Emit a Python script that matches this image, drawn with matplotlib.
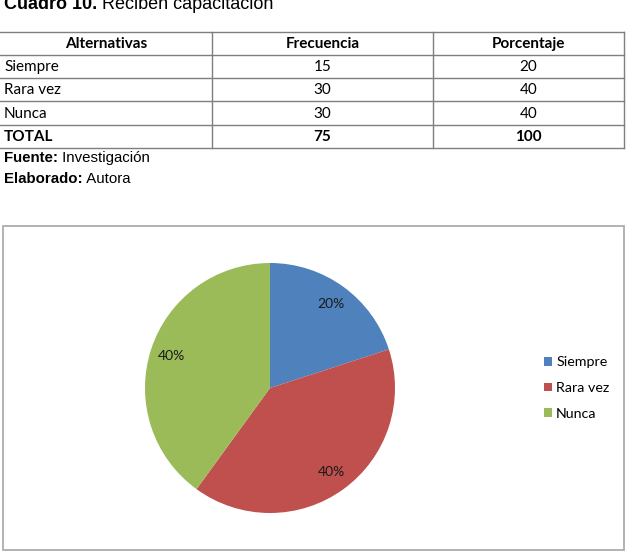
import matplotlib
matplotlib.use("Agg")
import matplotlib.pyplot as plt
from matplotlib.patches import Rectangle

# Data
alternativas = ["Siempre", "Rara vez", "Nunca"]
frecuencia = [15, 30, 30]
porcentaje = [20, 40, 40]
total_label = "TOTAL"
headers = ["Alternativas", "Frecuencia", "Porcentaje"]
colores = ["#4F81BD", "#C0504D", "#9BBB59"]

W, H = 633, 552
fig = plt.figure(figsize=(W / 100, H / 100), dpi=100)
fig.patch.set_facecolor("white")

# Page layer in pixel coordinates (y down)
page = fig.add_axes([0, 0, 1, 1])
page.set_xlim(0, W)
page.set_ylim(H, 0)
page.axis("off")

arial = "Liberation Sans"
calibri = "Lato"

# Title (cropped at the top like the source scan)
t = page.text(4, 9, "Cuadro 10.", fontsize=13, fontweight="bold", family=arial, va="baseline")
page.annotate(" Reciben capacitación", xycoords=t, xy=(1, 0), va="bottom",
              fontsize=13, family=arial)

# Table
col_x = [0, 212, 433, 624]
row_y = [32, 55, 78, 101, 125, 148]
line_c = "#7F7F7F"
for y in row_y:
    page.plot([col_x[0], col_x[-1]], [y, y], color=line_c, lw=1.0)
for x in col_x[1:]:
    page.plot([x, x], [row_y[0], row_y[-1]], color=line_c, lw=1.0)

rows = [headers]
for a, f, p in zip(alternativas, frecuencia, porcentaje):
    rows.append([a, str(f), str(p)])
rows.append([total_label, str(sum(frecuencia)), str(sum(porcentaje))])

for i, r in enumerate(rows):
    yc = (row_y[i] + row_y[i + 1]) / 2
    bold = i == 0 or i == len(rows) - 1
    for j, txt in enumerate(r):
        if j == 0 and i > 0:
            x, ha = 4, "left"
        else:
            x, ha = (col_x[j] + col_x[j + 1]) / 2, "center"
        page.text(x, yc + 0.5, txt, ha=ha, va="center", fontsize=11,
                  family=calibri, fontweight="bold" if bold else "normal")

# Source lines
f1 = page.text(4, 162, "Fuente:", fontsize=10.8, fontweight="bold", family=arial, va="baseline")
page.annotate(" Investigación", xycoords=f1, xy=(1, 0), va="bottom", fontsize=10.8, family=arial)
f2 = page.text(4, 183, "Elaborado:", fontsize=10.8, fontweight="bold", family=arial, va="baseline")
page.annotate(" Autora", xycoords=f2, xy=(1, 0), va="bottom", fontsize=10.8, family=arial)

# Chart frame
page.add_patch(Rectangle((3, 226), 621, 324, fill=False, edgecolor="#A6A6A6", lw=1.2))

# Pie
cx, cy, r = 270, 388, 125
ax = fig.add_axes([(cx - r) / W, (H - cy - r) / H, 2 * r / W, 2 * r / H])
wedges, texts, autotexts = ax.pie(
    porcentaje, colors=colores, startangle=90, counterclock=False,
    autopct="%1.0f%%", pctdistance=0.83,
    textprops=dict(fontsize=10, family=calibri, color="#1a1a1a"),
)
ax.set_xlim(-1, 1)
ax.set_ylim(-1, 1)
ax.set_aspect("auto")

# Legend
page.legend(wedges, alternativas, loc="center left", bbox_to_anchor=(544 / W, 1 - 388 / H),
            bbox_transform=fig.transFigure, frameon=False, borderpad=0, borderaxespad=0,
            prop=dict(family=calibri, size=10.3), handlelength=0.55, handleheight=0.55,
            handletextpad=0.3, labelspacing=0.95)

fig.savefig("out.png", dpi=100)
